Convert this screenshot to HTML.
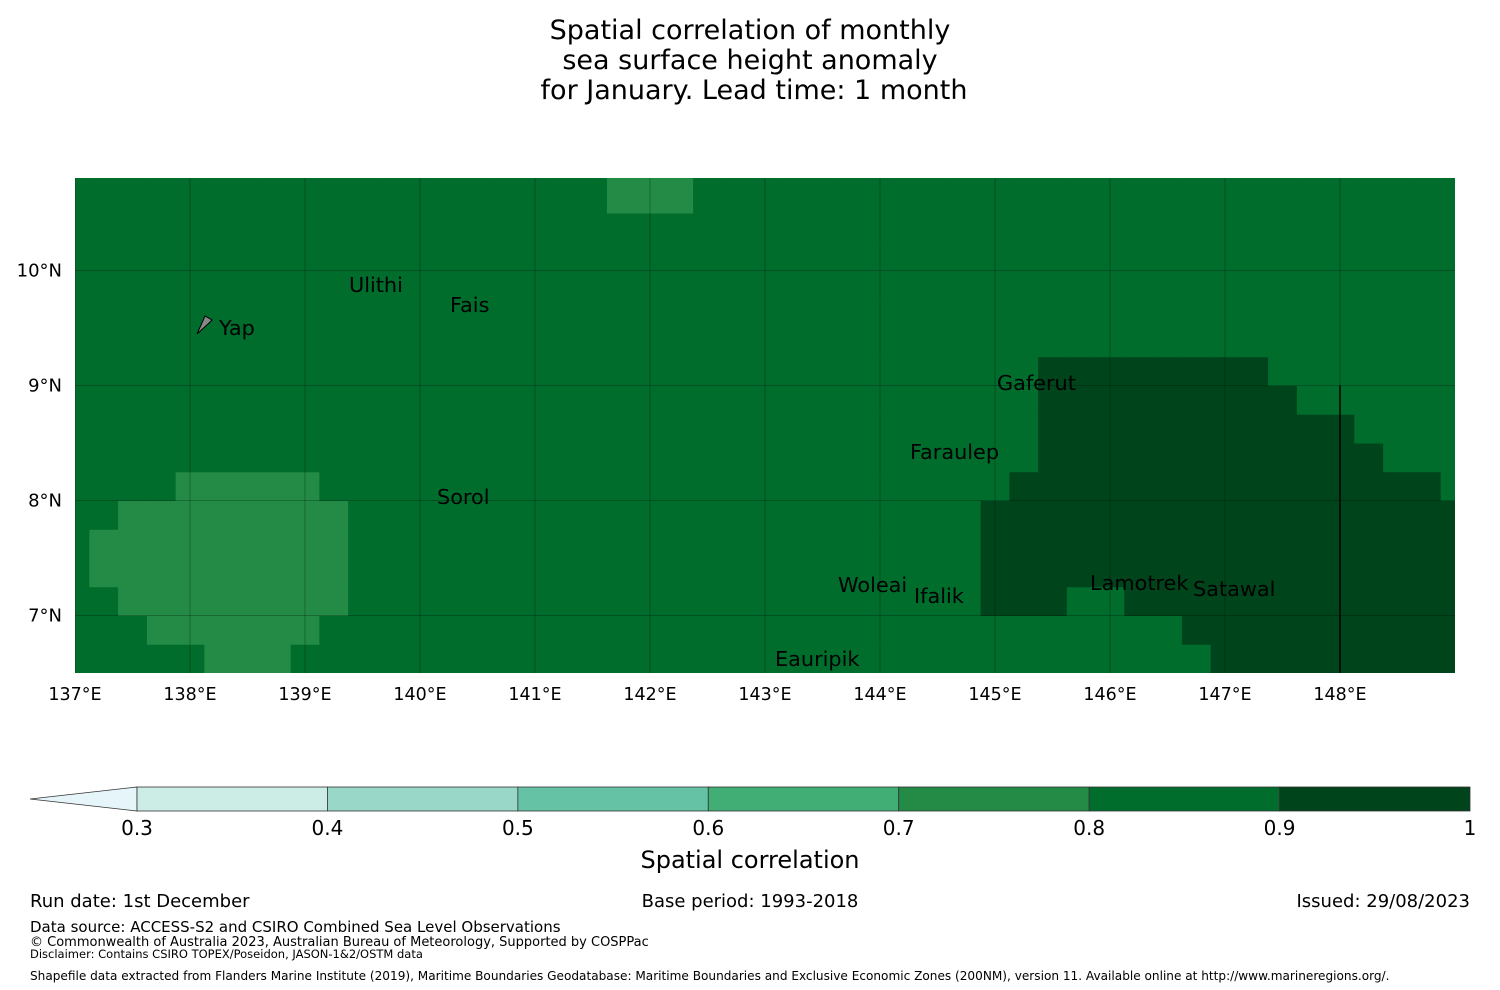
<!DOCTYPE html>
<html><head><meta charset="utf-8"><style>
body{margin:0;background:#fff;font-family:"Liberation Sans","DejaVu Sans",sans-serif;}
svg{display:block}
</style></head><body>
<svg width="1500" height="990" viewBox="0 0 1500 990" font-family="DejaVu Sans, Liberation Sans, sans-serif">
<g font-size="27" text-anchor="middle" fill="#000">
<text x="750" y="39">Spatial correlation of monthly</text>
<text x="750" y="69">sea surface height anomaly</text>
<text x="754" y="99">for January. Lead time: 1 month</text>
</g>
<defs><clipPath id="mapclip"><rect x="75" y="178" width="1380" height="495"/></clipPath></defs>
<g id="map" clip-path="url(#mapclip)"></g>
<g id="axes" font-size="17.5" fill="#000"></g>
<g font-size="20.8" fill="#000">
<text x="349" y="292">Ulithi</text>
<text x="450" y="312">Fais</text>
<text x="219" y="335">Yap</text>
<text x="997" y="390">Gaferut</text>
<text x="910" y="459">Faraulep</text>
<text x="437" y="504">Sorol</text>
<text x="838" y="592">Woleai</text>
<text x="914" y="603">Ifalik</text>
<text x="1090" y="590">Lamotrek</text>
<text x="1193" y="596">Satawal</text>
<text x="775" y="666">Eauripik</text>
</g>
<path d="M197,334 L205,316 L212,320 L208,324 Z" fill="#888" stroke="#000" stroke-width="1"/>
<g id="cbar"></g>
<text x="750" y="868" font-size="24" text-anchor="middle">Spatial correlation</text>
<g font-size="18" fill="#000">
<text x="30" y="907">Run date: 1st December</text>
<text x="750" y="907" text-anchor="middle">Base period: 1993-2018</text>
<text x="1470" y="907" text-anchor="end">Issued: 29/08/2023</text>
<text x="30" y="932" font-size="15">Data source: ACCESS-S2 and CSIRO Combined Sea Level Observations</text>
<text x="30" y="946" font-size="13">© Commonwealth of Australia 2023, Australian Bureau of Meteorology, Supported by COSPPac</text>
<text x="30" y="958" font-size="11.5">Disclaimer: Contains CSIRO TOPEX/Poseidon, JASON-1&amp;2/OSTM data</text>
<text x="30" y="980" font-size="12.1">Shapefile data extracted from Flanders Marine Institute (2019), Maritime Boundaries Geodatabase: Maritime Boundaries and Exclusive Economic Zones (200NM), version 11. Available online at http://www.marineregions.org/.</text>
</g>
</svg>
<script>
const NS="http://www.w3.org/2000/svg";
const nCols=49, nRows=18;
const baseLevel=5;
const patches=[
[17,19,21,4],[16,19,21,4],
[10,34,41,6],[9,34,42,6],[8,34,44,6],[7,34,45,6],
[6,4,8,4],[6,33,47,6],
[5,2,9,4],[5,32,48,6],
[4,1,9,4],[4,32,48,6],
[3,1,9,4],[3,32,48,6],
[2,2,9,4],[2,32,34,6],[2,37,48,6],
[1,3,8,4],[1,39,48,6],
[0,5,7,4],[0,40,48,6]
];
const levels=[0.3,0.4,0.5,0.6,0.7,0.8,0.9,1];
const colors=["#ccece6","#99d8c9","#66c2a4","#41ae76","#238b45","#006d2c","#00441b"];
const lonTicks=[137,138,139,140,141,142,143,144,145,146,147,148];
const latTicks=[7,8,9,10];
const xS=lon=>75+(lon-137)*115;
const yS=lat=>673-(lat-6.5)*115;
function mk(tag,attrs,parent){const e=document.createElementNS(NS,tag);for(const k in attrs)e.setAttribute(k,attrs[k]);parent.appendChild(e);return e;}
const map=document.getElementById('map');
const grid=[];
for(let j=0;j<nRows;j++){grid.push(new Array(nCols).fill(baseLevel));}
patches.forEach(p=>{for(let k=p[1];k<=p[2];k++)grid[p[0]][k]=p[3];});
for(let j=0;j<nRows;j++)for(let k=0;k<nCols;k++){
  const lon=137+0.25*k, lat=6.625+0.25*j;
  const x0=xS(lon-0.125), x1=xS(lon+0.125), y0=yS(lat+0.125), y1=yS(lat-0.125);
  const r=mk('rect',{x:x0,y:y0,width:x1-x0+0.5,height:y1-y0+0.5,fill:colors[grid[j][k]]},map);
  
  
}
const axes=document.getElementById('axes');
lonTicks.forEach(l=>{
  const g=mk('line',{x1:xS(l),x2:xS(l),y1:178,y2:673,stroke:'rgba(0,0,0,0.25)','stroke-width':1},map);
  
  
  const t=mk('text',{x:xS(l),y:700,'text-anchor':'middle'},axes);
  t.textContent=l+'°E';
  
  
});
latTicks.forEach(l=>{
  const g=mk('line',{x1:75,x2:1455,y1:yS(l),y2:yS(l),stroke:'rgba(0,0,0,0.25)','stroke-width':1},map);
  
  
  const t=mk('text',{x:62,y:yS(l)+6,'text-anchor':'end','font-size':18},axes);
  t.textContent=l+'°N';
  
  
});
const bl=mk('line',{x1:xS(148),x2:xS(148),y1:yS(9),y2:673,stroke:'#000','stroke-width':1.5},map);


const cb=document.getElementById('cbar');
const cx=v=>137+(v-0.3)/0.7*1333;
const tri=mk('polygon',{points:'30,799 137,787 137,811',fill:'#e5f5f9',stroke:'#333','stroke-width':0.8},cb);


for(let i=0;i<colors.length;i++){
  const r=mk('rect',{x:cx(levels[i]),y:787,width:cx(levels[i+1])-cx(levels[i]),height:24,fill:colors[i],stroke:'#333','stroke-width':0.8},cb);
  
  
}
levels.forEach(v=>{
  const t=mk('text',{x:cx(v),y:835,'text-anchor':'middle','font-size':20},cb);
  t.textContent=(v===1?'1':v.toFixed(1));
  
  
});
</script>
</body></html>
